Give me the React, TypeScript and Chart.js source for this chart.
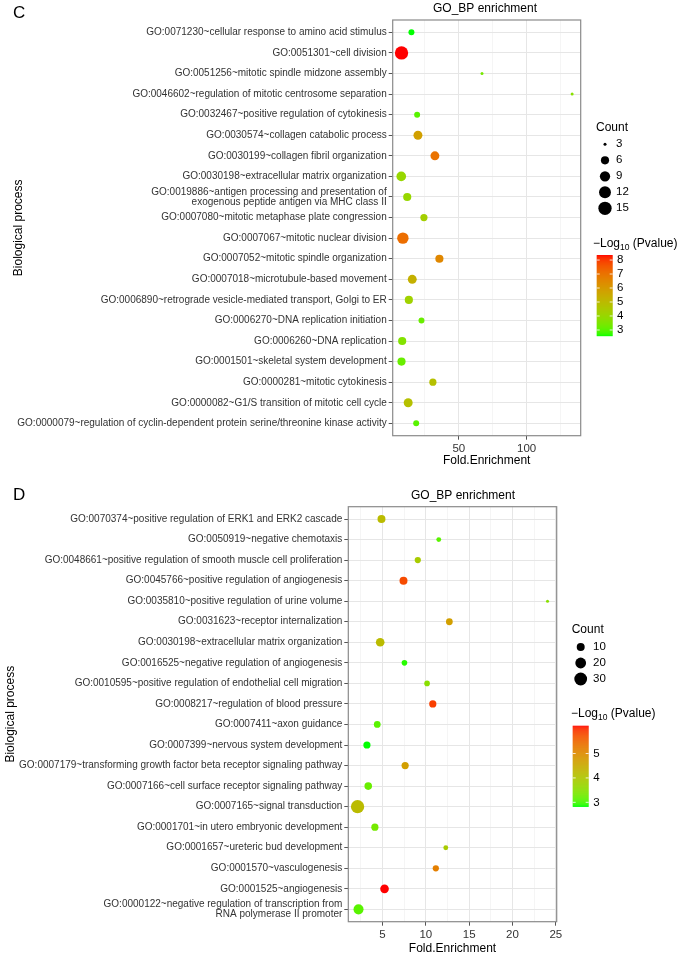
import React, { useEffect, useRef } from 'react';
import { Chart, registerables } from 'chart.js';

Chart.register(...registerables);

// ---------------- Panel C data ----------------
const cTerms: (string | string[])[] = [
  'GO:0071230~cellular response to amino acid stimulus',
  'GO:0051301~cell division',
  'GO:0051256~mitotic spindle midzone assembly',
  'GO:0046602~regulation of mitotic centrosome separation',
  'GO:0032467~positive regulation of cytokinesis',
  'GO:0030574~collagen catabolic process',
  'GO:0030199~collagen fibril organization',
  'GO:0030198~extracellular matrix organization',
  ['GO:0019886~antigen processing and presentation of', 'exogenous peptide antigen via MHC class II'],
  'GO:0007080~mitotic metaphase plate congression',
  'GO:0007067~mitotic nuclear division',
  'GO:0007052~mitotic spindle organization',
  'GO:0007018~microtubule-based movement',
  'GO:0006890~retrograde vesicle-mediated transport, Golgi to ER',
  'GO:0006270~DNA replication initiation',
  'GO:0006260~DNA replication',
  'GO:0001501~skeletal system development',
  'GO:0000281~mitotic cytokinesis',
  'GO:0000082~G1/S transition of mitotic cell cycle',
  'GO:0000079~regulation of cyclin-dependent protein serine/threonine kinase activity',
];
const cFold = [15.1, 7.8, 67.1, 133.5, 19.3, 19.9, 32.4, 7.6, 12.0, 24.3, 8.8, 35.7, 15.7, 13.2, 22.5, 8.3, 7.8, 30.9, 12.7, 18.6];
const cCount = [4, 15, 3, 3, 4, 7, 7, 8, 6, 5, 11, 6, 7, 6, 4, 6, 6, 5, 7, 4];
const cLogP = [2.57, 8.36, 3.4, 3.7, 3.0, 5.8, 7.0, 4.0, 4.0, 4.3, 7.1, 6.5, 5.3, 4.2, 3.2, 3.6, 3.2, 4.8, 4.8, 3.0];
const cSizeBreaks = [3, 6, 9, 12, 15];
const cColorBreaks = [3, 4, 5, 6, 7, 8];
const cXTickLabels = [50, 100];

// ---------------- Panel D data ----------------
const dTerms: (string | string[])[] = [
  'GO:0070374~positive regulation of ERK1 and ERK2 cascade',
  'GO:0050919~negative chemotaxis',
  'GO:0048661~positive regulation of smooth muscle cell proliferation',
  'GO:0045766~positive regulation of angiogenesis',
  'GO:0035810~positive regulation of urine volume',
  'GO:0031623~receptor internalization',
  'GO:0030198~extracellular matrix organization',
  'GO:0016525~negative regulation of angiogenesis',
  'GO:0010595~positive regulation of endothelial cell migration',
  'GO:0008217~regulation of blood pressure',
  'GO:0007411~axon guidance',
  'GO:0007399~nervous system development',
  'GO:0007179~transforming growth factor beta receptor signaling pathway',
  'GO:0007166~cell surface receptor signaling pathway',
  'GO:0007165~signal transduction',
  'GO:0001701~in utero embryonic development',
  'GO:0001657~ureteric bud development',
  'GO:0001570~vasculogenesis',
  'GO:0001525~angiogenesis',
  ['GO:0000122~negative regulation of transcription from', 'RNA polymerase II promoter'],
];
const dFold = [4.88, 11.49, 9.07, 7.42, 24.04, 12.71, 4.73, 7.53, 10.14, 10.8, 4.39, 3.2, 7.61, 3.35, 2.12, 4.12, 12.3, 11.15, 5.23, 2.23];
const dCount = [10, 4, 6, 10, 3, 7, 12, 5, 5, 8, 7, 8, 8, 9, 33, 8, 4, 6, 12, 17];
const dLogP = [4.2, 3.1, 3.9, 5.8, 3.5, 4.7, 4.2, 2.9, 3.5, 5.9, 3.1, 2.85, 4.7, 3.2, 4.2, 3.3, 3.9, 5.2, 6.14, 3.1];
const dSizeBreaks = [10, 20, 30];
const dColorBreaks = [3, 4, 5];
const dXTickLabels = [5, 10, 15, 20, 25];

const FONT = '"Liberation Sans", Arial, Helvetica, sans-serif';
const TEXT = '#333333';

// ---------- colour helpers (Lab interpolation, green -> red) ----------
function toLin(c: number) {
  c /= 255;
  return c <= 0.04045 ? c / 12.92 : Math.pow((c + 0.055) / 1.055, 2.4);
}
function fromLin(c: number) {
  const v = c <= 0.0031308 ? 12.92 * c : 1.055 * Math.pow(c, 1 / 2.4) - 0.055;
  return Math.round(Math.min(1, Math.max(0, v)) * 255);
}
const XN = 0.95047, YN = 1, ZN = 1.08883;
function rgbToLab(r: number, g: number, b: number) {
  const R = toLin(r), G = toLin(g), B = toLin(b);
  const X = (0.4124 * R + 0.3576 * G + 0.1805 * B) / XN;
  const Y = (0.2126 * R + 0.7152 * G + 0.0722 * B) / YN;
  const Z = (0.0193 * R + 0.1192 * G + 0.9505 * B) / ZN;
  const f = (t: number) => (t > 0.008856 ? Math.cbrt(t) : 7.787 * t + 16 / 116);
  const fx = f(X), fy = f(Y), fz = f(Z);
  return [116 * fy - 16, 500 * (fx - fy), 200 * (fy - fz)];
}
function labToRgb(L: number, a: number, b: number) {
  const fy = (L + 16) / 116, fx = fy + a / 500, fz = fy - b / 200;
  const inv = (t: number) => (t * t * t > 0.008856 ? t * t * t : (t - 16 / 116) / 7.787);
  const X = inv(fx) * XN, Y = inv(fy) * YN, Z = inv(fz) * ZN;
  const R = 3.2406 * X - 1.5372 * Y - 0.4986 * Z;
  const G = -0.9689 * X + 1.8758 * Y + 0.0415 * Z;
  const B = 0.0557 * X - 0.204 * Y + 1.057 * Z;
  return `rgb(${fromLin(R)},${fromLin(G)},${fromLin(B)})`;
}
const LOW = rgbToLab(0, 255, 0);
const HIGH = rgbToLab(255, 0, 0);
function gradient(t: number) {
  t = Math.min(1, Math.max(0, t));
  return labToRgb(LOW[0] + (HIGH[0] - LOW[0]) * t, LOW[1] + (HIGH[1] - LOW[1]) * t, LOW[2] + (HIGH[2] - LOW[2]) * t);
}

type Cfg = {
  letter: string;
  terms: (string | string[])[];
  fold: number[];
  count: number[];
  logp: number[];
  sizeBreaks: number[];
  colorBreaks: number[];
  xLabels: number[];
  width: number;
  height: number;
  xMin: number;
  xMax: number;
  step: number;
  area: { left: number; top: number; right: number; bottom: number };
  titleX: number;
  titleY: number;
  letterY: number;
  yTitleX: number;
  xTitleY: number;
  countX: number;
  countTitleY: number;
  dotX: number;
  sizeLabelX: number;
  firstRowY: number;
  cbTitleX: number;
  cbTitleY: number;
  barX: number;
  barTop: number;
  barBottom: number;
  cbLabelX: number;
};

function buildChart(canvas: HTMLCanvasElement, cfg: Cfg) {
  const pMin = Math.min(...cfg.logp);
  const pMax = Math.max(...cfg.logp);
  const cMin = Math.min(...cfg.count);
  const cMax = Math.max(...cfg.count);
  const D_MIN = 3, D_MAX = 13.3;
  const diam = (c: number) => D_MIN + (D_MAX - D_MIN) * Math.sqrt(Math.max(0, (c - cMin) / (cMax - cMin)));
  const colorOf = (v: number) => gradient((v - pMin) / (pMax - pMin));
  const isMajor = (v: number) => cfg.xLabels.some((m) => Math.abs(m - v) < 1e-6);

  const extras = {
    id: 'extras',
    afterDraw(chart: any) {
      const ctx = chart.ctx as CanvasRenderingContext2D;
      const a = chart.chartArea;
      ctx.save();
      // panel border
      ctx.strokeStyle = '#8a8a8a';
      ctx.lineWidth = 1.2;
      ctx.strokeRect(a.left, a.top, a.right - a.left, a.bottom - a.top);

      ctx.fillStyle = '#000';
      ctx.textBaseline = 'middle';
      // panel letter
      ctx.font = `17px ${FONT}`;
      ctx.textAlign = 'left';
      ctx.fillText(cfg.letter, 13, cfg.letterY);
      // title
      ctx.font = `12px ${FONT}`;
      ctx.textAlign = 'center';
      ctx.fillText('GO_BP enrichment', cfg.titleX, cfg.titleY);
      // x title
      ctx.font = `12px ${FONT}`;
      ctx.fillText('Fold.Enrichment', (a.left + a.right) / 2, cfg.xTitleY);
      // y title
      ctx.save();
      ctx.translate(cfg.yTitleX, (a.top + a.bottom) / 2);
      ctx.rotate(-Math.PI / 2);
      ctx.font = `12px ${FONT}`;
      ctx.fillText('Biological process', 0, 0);
      ctx.restore();

      // size legend
      ctx.textAlign = 'left';
      ctx.font = `12px ${FONT}`;
      ctx.fillText('Count', cfg.countX, cfg.countTitleY);
      cfg.sizeBreaks.forEach((b, i) => {
        const y = cfg.firstRowY + i * 16;
        ctx.beginPath();
        ctx.fillStyle = '#000';
        ctx.arc(cfg.dotX, y, diam(b) / 2, 0, Math.PI * 2);
        ctx.fill();
        ctx.font = `11.5px ${FONT}`;
        ctx.fillText(String(b), cfg.sizeLabelX, y);
      });

      // colour legend title
      ctx.font = `12px ${FONT}`;
      let x = cfg.cbTitleX;
      ctx.fillText('\u2212Log', x, cfg.cbTitleY);
      x += ctx.measureText('\u2212Log').width;
      ctx.font = `8.5px ${FONT}`;
      ctx.fillText('10', x, cfg.cbTitleY + 4);
      x += ctx.measureText('10').width;
      ctx.font = `12px ${FONT}`;
      ctx.fillText(' (Pvalue)', x, cfg.cbTitleY);

      // colour bar
      const barW = 16;
      const h = cfg.barBottom - cfg.barTop;
      for (let yy = 0; yy < h; yy++) {
        const v = pMax - ((yy + 0.5) / h) * (pMax - pMin);
        ctx.fillStyle = colorOf(v);
        ctx.fillRect(cfg.barX, cfg.barTop + yy, barW, 1.2);
      }
      ctx.strokeStyle = 'rgba(255,255,255,0.8)';
      ctx.lineWidth = 1;
      ctx.font = `11.5px ${FONT}`;
      ctx.fillStyle = '#000';
      cfg.colorBreaks.forEach((b) => {
        const y = cfg.barBottom - ((b - pMin) / (pMax - pMin)) * h;
        ctx.beginPath();
        ctx.moveTo(cfg.barX, y);
        ctx.lineTo(cfg.barX + 3, y);
        ctx.moveTo(cfg.barX + barW - 3, y);
        ctx.lineTo(cfg.barX + barW, y);
        ctx.stroke();
        ctx.fillText(String(b), cfg.cbLabelX, y);
      });
      ctx.restore();
    },
  };

  return new Chart(canvas, {
    type: 'bubble',
    data: {
      datasets: [
        {
          data: cfg.fold.map((x, i) => ({ x, y: i, r: diam(cfg.count[i]) / 2 })),
          backgroundColor: cfg.logp.map(colorOf),
          borderWidth: 0,
          hoverBorderWidth: 0,
          hoverRadius: 0,
        },
      ],
    },
    options: {
      animation: false,
      responsive: false,
      events: [],
      layout: {
        padding: {
          left: 0,
          top: cfg.area.top,
          right: cfg.width - cfg.area.right,
          bottom: 0,
        },
      },
      plugins: { legend: { display: false }, tooltip: { enabled: false }, title: { display: false } },
      scales: {
        x: {
          type: 'linear',
          position: 'bottom',
          min: cfg.xMin,
          max: cfg.xMax,
          afterFit: (s: any) => {
            s.height = cfg.height - cfg.area.bottom;
          },
          border: { display: false },
          grid: {
            color: (c: any) => (c.tick && isMajor(c.tick.value) ? '#e6e6e6' : '#f0f0f0'),
            lineWidth: (c: any) => (c.tick && isMajor(c.tick.value) ? 1 : 0.7),
            tickColor: (c: any) => (c.tick && isMajor(c.tick.value) ? '#555' : 'rgba(0,0,0,0)'),
            tickWidth: 1,
            tickLength: 4,
          },
          ticks: {
            stepSize: cfg.step,
            includeBounds: false,
            autoSkip: false,
            maxRotation: 0,
            padding: 2,
            color: TEXT,
            font: { family: FONT, size: 11.5 },
            callback: (v: any) => (isMajor(Number(v)) ? String(v) : ''),
          },
        },
        y: {
          type: 'linear',
          reverse: true,
          min: -0.6,
          max: cfg.terms.length - 0.4,
          afterFit: (s: any) => {
            s.width = cfg.area.left;
          },
          border: { display: false },
          grid: { color: '#e6e6e6', lineWidth: 1, tickColor: '#555', tickWidth: 1, tickLength: 4 },
          ticks: {
            stepSize: 1,
            includeBounds: false,
            autoSkip: false,
            padding: 2,
            color: TEXT,
            font: { family: FONT, size: 10, lineHeight: 1 },
            callback: (v: any) => cfg.terms[Math.round(Number(v))] ?? '',
          },
        },
      },
    } as any,
    plugins: [extras],
  });
}

function Panel({ cfg, top }: { cfg: Cfg; top: number }) {
  const ref = useRef<HTMLCanvasElement | null>(null);
  useEffect(() => {
    if (!ref.current) return;
    const chart = buildChart(ref.current, cfg);
    return () => chart.destroy();
  }, [cfg]);
  return (
    <canvas
      ref={ref}
      width={cfg.width}
      height={cfg.height}
      style={{ position: 'absolute', left: 0, top, width: cfg.width, height: cfg.height, display: 'block' }}
    />
  );
}

const cfgC: Cfg = {
  letter: 'C',
  terms: cTerms,
  fold: cFold,
  count: cCount,
  logp: cLogP,
  sizeBreaks: cSizeBreaks,
  colorBreaks: cColorBreaks,
  xLabels: cXTickLabels,
  width: 677,
  height: 480,
  xMin: 1.3,
  xMax: 139.8,
  step: 25,
  area: { left: 392.7, top: 20, right: 580.7, bottom: 435.7 },
  titleX: 485,
  titleY: 8.5,
  letterY: 13.5,
  yTitleX: 19,
  xTitleY: 461,
  countX: 596,
  countTitleY: 128,
  dotX: 605,
  sizeLabelX: 616,
  firstRowY: 144.3,
  cbTitleX: 593,
  cbTitleY: 244,
  barX: 596.7,
  barTop: 255,
  barBottom: 336,
  cbLabelX: 617,
};

const cfgD: Cfg = {
  letter: 'D',
  terms: dTerms,
  fold: dFold,
  count: dCount,
  logp: dLogP,
  sizeBreaks: dSizeBreaks,
  colorBreaks: dColorBreaks,
  xLabels: dXTickLabels,
  width: 677,
  height: 477,
  xMin: 1.05,
  xMax: 25.1,
  step: 2.5,
  area: { left: 348.3, top: 26.7, right: 556.7, bottom: 441.7 },
  titleX: 463,
  titleY: 15.7,
  letterY: 15.5,
  yTitleX: 11,
  xTitleY: 468.7,
  countX: 571.7,
  countTitleY: 149.3,
  dotX: 580.7,
  sizeLabelX: 593,
  firstRowY: 167,
  cbTitleX: 571,
  cbTitleY: 234,
  barX: 572.7,
  barTop: 245.7,
  barBottom: 326,
  cbLabelX: 593.3,
};

export default function App() {
  return (
    <div style={{ position: 'absolute', left: 0, top: 0, width: 677, height: 957, background: '#fff' }}>
      <Panel cfg={cfgC} top={0} />
      <Panel cfg={cfgD} top={480} />
    </div>
  );
}
